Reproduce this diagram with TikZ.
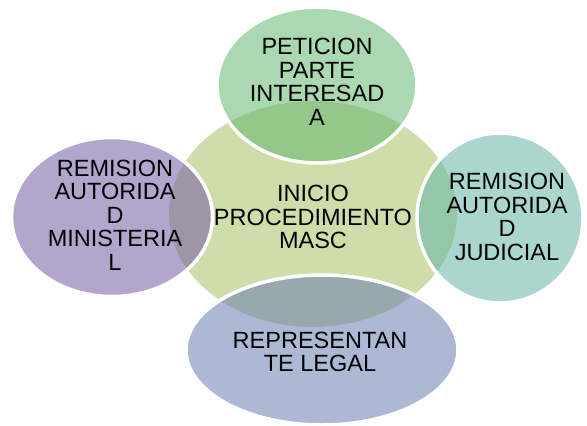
\documentclass[tikz,border=0pt]{standalone}
\usepackage{fontspec}
\setmainfont{Liberation Sans}
\usetikzlibrary{shapes.geometric}
\definecolor{hubgreen}{RGB}{207,221,170}
\definecolor{petgreen}{RGB}{100,184,112}
\definecolor{judteal}{RGB}{100,180,168}
\definecolor{repblue}{RGB}{106,127,177}
\definecolor{minpurple}{RGB}{118,91,164}
\begin{document}
\begin{tikzpicture}[x=1pt, y=-1pt, line join=round,
  blob/.style={ellipse, inner sep=0pt, draw=white, line width=3.5pt, fill opacity=0.55},
  txt/.style={align=center, font=\fontsize{23.5}{23.5}\selectfont, text=black}]
\useasboundingbox (0,0) rectangle (587,426);
% centro
\fill[hubgreen] (313,214) ellipse [x radius=144, y radius=113];
\node[txt] (inicio) at (313,217) {INICIO\\PROCEDIMIENTO\\MASC};
% elipses alrededor
\node[blob, fill=petgreen, minimum width=200, minimum height=156] (peticion) at (317,85) {};
\node[blob, fill=judteal, minimum width=166, minimum height=170] (judicial) at (500,218) {};
\node[blob, fill=repblue, minimum width=272, minimum height=150] (representante) at (322,350) {};
\node[blob, fill=minpurple, minimum width=201, minimum height=159] (ministerial) at (112,217) {};
% textos
\node[txt] (peticiontxt) at (317,82) {PETICION\\PARTE\\INTERESAD\\A};
\node[txt] (judicialtxt) at (507,217) {REMISION\\AUTORIDA\\D\\JUDICIAL};
\node[txt] (representantetxt) at (320,352) {REPRESENTAN\\TE LEGAL};
\node[txt] (ministerialtxt) at (115,215) {REMISION\\AUTORIDA\\D\\MINISTERIA\\L};
\end{tikzpicture}
\end{document}
